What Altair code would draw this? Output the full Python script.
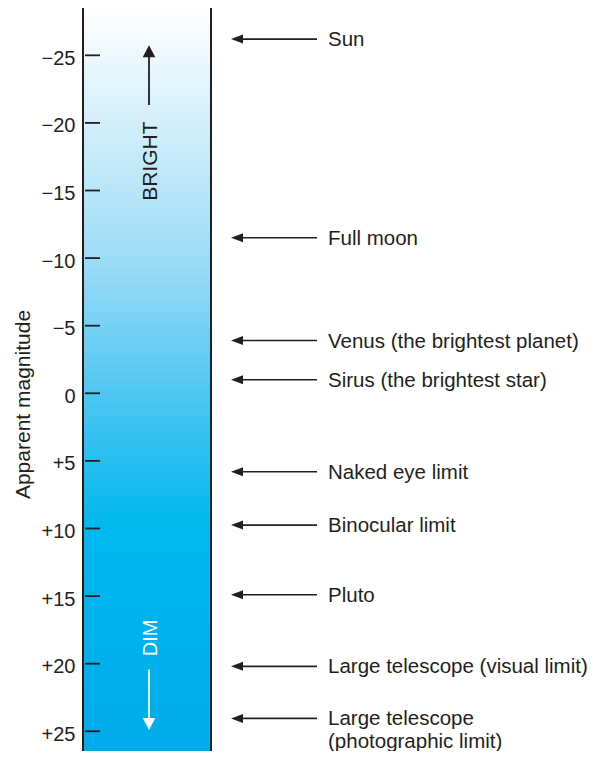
import altair as alt
import pandas as pd

# ---- data ----
tick_values = [-25, -20, -15, -10, -5, 0, 5, 10, 15, 20, 25]
labels = [
    "Sun",
    "Full moon",
    "Venus (the brightest planet)",
    "Sirus (the brightest star)",
    "Naked eye limit",
    "Binocular limit",
    "Pluto",
    "Large telescope (visual limit)",
    "Large telescope\n(photographic limit)",
]
magnitudes = [-26.2, -11.5, -3.9, -1.0, 5.8, 9.75, 14.9, 20.2, 24.05]
scale_domain = [-28.5, 26.46]
gradient_offsets = [0.0, 0.337, 0.519, 0.70, 1.0]
gradient_colors = ["#ffffff", "#9edcf6", "#4ec6f1", "#00b8ef", "#00abea"]
bright_arrow = [-21.33, -25.31]   # tail, head centre
bright_text = [-17.17]
dim_arrow = [20.43, 24.47]        # tail, head centre
dim_text = [18.1]

INK = "#231f20"
FONT = "Liberation Sans"

yscale = alt.Scale(domain=scale_domain, reverse=True, nice=False, zero=False)

label_expr = ("datum.value > 0 ? '+' + datum.value : "
              "(datum.value < 0 ? '\u2212' + (-datum.value) : '0')")

y_axis = alt.Axis(
    values=tick_values, ticks=False, domain=False, grid=False,
    labelExpr=label_expr, labelFontSize=20, labelColor=INK, labelFont=FONT,
    labelPadding=8, labelOffset=3, labelFlush=False, labelOverlap=False,
    title="Apparent magnitude", titleFontSize=21, titleFontWeight="normal",
    titleColor=INK, titleFont=FONT, titleAngle=270, titleX=-60, titleY=396,
    titleAlign="center", titleBaseline="middle")


def Y(field):
    return alt.Y(field, scale=yscale, axis=y_axis, title="Apparent magnitude")


bar_df = pd.DataFrame({"top": [scale_domain[0]], "bottom": [scale_domain[1]]})
tick_df = pd.DataFrame({"mag": tick_values})
arrow_df = pd.DataFrame({"mag": magnitudes, "label": labels})
bright_df = pd.DataFrame({"tail": [bright_arrow[0]], "head": [bright_arrow[1]],
                          "txt": bright_text, "label": ["BRIGHT"]})
dim_df = pd.DataFrame({"tail": [dim_arrow[0]], "head": [dim_arrow[1]],
                       "txt": dim_text, "label": ["DIM"]})

gradient = alt.LinearGradient(
    gradient="linear",
    stops=[alt.GradientStop(color=c, offset=o) for c, o in zip(gradient_colors, gradient_offsets)],
    x1=0, x2=0, y1=0, y2=1,
)

bar = alt.Chart(bar_df).mark_rect(color=gradient).encode(
    x=alt.value(0), x2=alt.value(128), y=Y("top:Q"), y2="bottom:Q")

borders = [
    alt.Chart(bar_df).mark_rule(color=INK, strokeWidth=2).encode(
        x=alt.value(xv), y=Y("top:Q"), y2="bottom:Q")
    for xv in (0, 128)
]

ticks = alt.Chart(tick_df).mark_rule(color=INK, strokeWidth=1.8).encode(
    x=alt.value(2), x2=alt.value(17), y=Y("mag:Q"))

shafts = alt.Chart(arrow_df).mark_rule(color=INK, strokeWidth=1.6).encode(
    x=alt.value(152), x2=alt.value(234), y=Y("mag:Q"))

heads = alt.Chart(arrow_df).mark_point(
    shape="M -1 0 L 1 -0.75 L 1 0.75 Z", size=144, filled=True, opacity=1,
    color=INK, strokeWidth=0).encode(x=alt.value(154), y=Y("mag:Q"))

text_single = alt.Chart(arrow_df).transform_filter(
    "indexof(datum.label, '\\n') < 0").mark_text(
    align="left", baseline="middle", fontSize=20.5, font=FONT, color=INK, dy=1).encode(
    x=alt.value(245), y=Y("mag:Q"), text="label:N")

text_multi = alt.Chart(arrow_df).transform_filter(
    "indexof(datum.label, '\\n') >= 0").mark_text(
    align="left", baseline="top", fontSize=20.5, font=FONT, color=INK, dy=-9.5,
    lineBreak="\n", lineHeight=23).encode(
    x=alt.value(245), y=Y("mag:Q"), text="label:N")


def vertical_arrow(df, color, head_shape, fsize):
    shaft = alt.Chart(df).mark_rule(color=color, strokeWidth=1.8).encode(
        x=alt.value(66), y=Y("tail:Q"), y2="head:Q")
    head = alt.Chart(df).mark_point(
        shape=head_shape, size=144, filled=True, opacity=1, color=color,
        strokeWidth=0).encode(x=alt.value(66), y=Y("head:Q"))
    txt = alt.Chart(df).mark_text(
        angle=270, align="center", baseline="middle", fontSize=fsize, font=FONT,
        color=color).encode(x=alt.value(67.5), y=Y("txt:Q"), text="label:N")
    return [shaft, head, txt]


bright_layers = vertical_arrow(bright_df, INK, "M 0 -1 L -1.05 1 L 1.05 1 Z", 21)
dim_layers = vertical_arrow(dim_df, "#ffffff", "M 0 1 L -1.05 -1 L 1.05 -1 Z", 20)

chart = alt.layer(
    bar, *borders, ticks, shafts, heads, text_single, text_multi,
    *bright_layers, *dim_layers,
).properties(
    width=508, height=743,
    autosize=alt.AutoSizeParams(type="none"),
    padding={"left": 75, "top": 0, "right": 0, "bottom": 0},
    background="#ffffff",
).configure_view(stroke=None)

chart.save("out.html", embed_options={"renderer": "svg", "actions": False})
